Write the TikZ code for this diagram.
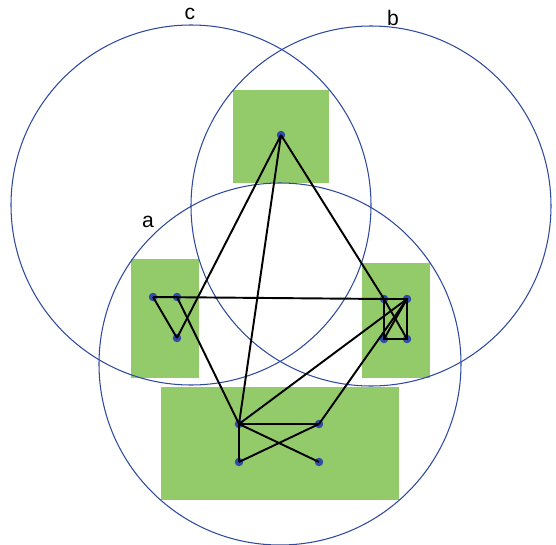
\documentclass[tikz,border=0pt]{standalone}
\usepackage{fontspec}
\setmainfont{Liberation Sans}
\usepackage{xcolor}
\usetikzlibrary{calc, positioning}

\definecolor{ringblue}{HTML}{2E4A9E}
\definecolor{boxgreen}{HTML}{93CA6A}
\definecolor{dotblue}{HTML}{2F4CA6}

\tikzset{
    ring/.style={draw=ringblue, line width=0.6pt},
    region/.style={fill=boxgreen, draw=none},
    dot/.style={circle, fill=dotblue, inner sep=0pt, minimum size=0.17cm},
    link/.style={black, line width=1.1pt},
    setname/.style={font=\fontsize{12}{14}\selectfont, inner sep=0pt}
}

\begin{document}
\begin{tikzpicture}[x=0.02cm, y=-0.02cm]
    \useasboundingbox (0,0) rectangle (556,545);

    % Các vùng
    \fill[region] (233,90) rectangle (329,183);
    \fill[region] (131,259) rectangle (199,378);
    \fill[region] (362,263) rectangle (430,378);
    \fill[region] (161,387) rectangle (399,500);

    % Ba đường tròn
    \draw[ring] (191,205) circle (180);
    \draw[ring] (371,206) circle (180);
    \draw[ring] (280,364) circle (181);
    \node[setname] (lc) at (190,14) {c};
    \node[setname] (lb) at (393,18) {b};
    \node[setname] (la) at (148,222) {a};

    % Các điểm
    \node[dot] (t) at (281,135) {};
    \node[dot] (l1) at (153,297) {};
    \node[dot] (l2) at (177,297) {};
    \node[dot] (l3) at (177,338) {};
    \node[dot] (r1) at (384,299) {};
    \node[dot] (r2) at (407,299) {};
    \node[dot] (r3) at (384,339) {};
    \node[dot] (r4) at (407,339) {};
    \node[dot] (b1) at (239,424) {};
    \node[dot] (b2) at (319,424) {};
    \node[dot] (b3) at (239,462) {};
    \node[dot] (b4) at (319,462) {};

    % Các cạnh
    \draw[link] (t.center) -- (l3.center);
    \draw[link] (t.center) -- (b1.center);
    \draw[link] (t.center) -- (r1.center);
    \draw[link] (l1.center) -- (r1.center);
    \draw[link] (l1.center) -- (l3.center);
    \draw[link] (l2.center) -- (b1.center);
    \draw[link] (r1.center) -- (r2.center) -- (r4.center) -- (r3.center) -- cycle;
    \draw[link] (r1.center) -- (r4.center);
    \draw[link] (r2.center) -- (r3.center);
    \draw[link] (r2.center) -- (b1.center);
    \draw[link] (r2.center) -- (b2.center);
    \draw[link] (b1.center) -- (b2.center);
    \draw[link] (b1.center) -- (b3.center);
    \draw[link] (b3.center) -- (b2.center);
    \draw[link] (b1.center) -- (b4.center);
\end{tikzpicture}
\end{document}
